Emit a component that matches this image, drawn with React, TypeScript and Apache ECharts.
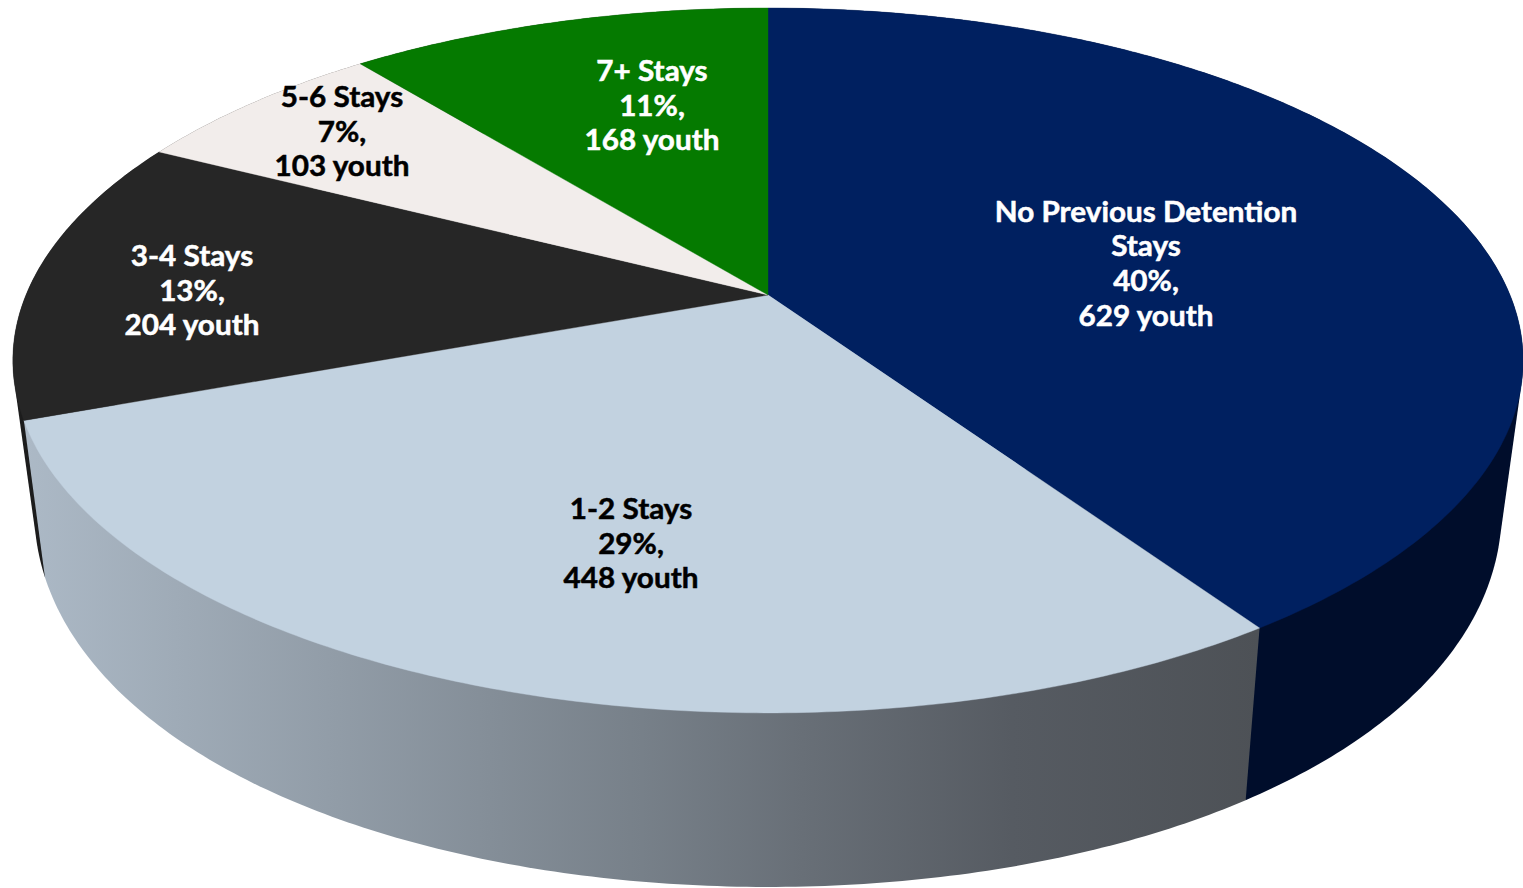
import React, { useEffect, useRef } from "react";
import * as echarts from "echarts";

// Detention history of youth, one slice per group, clockwise from twelve o'clock.
const categories = ["No Previous Detention\nStays", "1-2 Stays", "3-4 Stays", "5-6 Stays", "7+ Stays"];
const youth = [629, 448, 204, 103, 168];
const percents = [40, 29, 13, 7, 11];

const faceColors = ["#002060", "#c2d2e0", "#262626", "#f2edeb", "#057a00"];
const labelColors = ["#ffffff", "#000000", "#ffffff", "#000000", "#ffffff"];
const labelCentres = [
  [1146, 263],
  [631, 543],
  [192, 290],
  [342, 131],
  [652, 105],
];
const wallShade = {
  type: "linear",
  x: 0,
  y: 0,
  x2: 1,
  y2: 0,
  colorStops: [
    { offset: 0, color: "#acb9c6" },
    { offset: 0.5, color: "#778089" },
    { offset: 0.63, color: "#686f77" },
    { offset: 0.8, color: "#565b62" },
    { offset: 1, color: "#4d5156" },
  ],
};
const wallFills: any[] = ["#000d2b", wallShade, "#1c1c1c", "#1c1c1c", "#1c1c1c"];
// Back-to-front order in which the side walls are painted.
const wallOrder = [4, 3, 2, 0, 1];

// Perspective projection of the top and bottom discs.
const CX = 768;
const TOP = { cy: 295, a: 0.1857, A: 742, B: 340.3, ay: 0.1857 };
const BOTTOM = { cy: 434.4, a: 0.1857, A: 721, B: 396, ay: 0.125 };

type Disc = typeof TOP;
type Pt = [number, number];

const total = youth.reduce((s, v) => s + v, 0);
const edges: number[] = [0];
youth.forEach((v, i) => edges.push(edges[i] + (v / total) * Math.PI * 2));

function project(d: Disc, t: number): Pt {
  const u = Math.sin(t);
  const v = Math.cos(t);
  return [CX + (d.A * u) / (1 + d.a * v), d.cy - (d.B * v) / (1 + d.ay * v)];
}

function arc(d: Disc, t0: number, t1: number): Pt[] {
  const steps = Math.max(8, Math.ceil((t1 - t0) * 90));
  const out: Pt[] = [];
  for (let i = 0; i <= steps; i++) out.push(project(d, t0 + ((t1 - t0) * i) / steps));
  return out;
}

// The visible wall of a slice is the outline around its top and bottom rims.
function hull(pts: Pt[]): Pt[] {
  const s = [...pts].sort((p, q) => p[0] - q[0] || p[1] - q[1]);
  const cross = (o: Pt, p: Pt, q: Pt) => (p[0] - o[0]) * (q[1] - o[1]) - (p[1] - o[1]) * (q[0] - o[0]);
  const half = (list: Pt[]) => {
    const h: Pt[] = [];
    for (const p of list) {
      while (h.length >= 2 && cross(h[h.length - 2], h[h.length - 1], p) <= 0) h.pop();
      h.push(p);
    }
    h.pop();
    return h;
  };
  return [...half(s), ...half([...s].reverse())];
}

const FONT = "bold 28px Lato, sans-serif";

export default function App() {
  const ref = useRef<HTMLDivElement>(null);

  useEffect(() => {
    document.body.style.margin = "0";
    const chart = echarts.init(ref.current!, undefined, { renderer: "svg" });
    chart.setOption({
      animation: false,
      backgroundColor: "#ffffff",
      tooltip: { show: false },
      series: [
        {
          type: "custom",
          coordinateSystem: "none",
          silent: true,
          z: 1,
          data: wallOrder.map((i) => ({ name: categories[i], value: youth[i] })),
          renderItem: (params: any) => {
            const i = wallOrder[params.dataIndex];
            const rim = [...arc(TOP, edges[i], edges[i + 1]), ...arc(BOTTOM, edges[i], edges[i + 1])];
            return {
              type: "polygon",
              shape: { points: hull(rim) },
              style: { fill: wallFills[i] },
            };
          },
        },
        {
          type: "custom",
          coordinateSystem: "none",
          silent: true,
          z: 2,
          data: youth.map((v, i) => ({ name: categories[i], value: v })),
          renderItem: (params: any) => {
            const i = params.dataIndex;
            return {
              type: "polygon",
              shape: { points: [[CX, TOP.cy], ...arc(TOP, edges[i], edges[i + 1])] },
              style: { fill: faceColors[i], stroke: faceColors[i], lineWidth: 0.4 },
            };
          },
        },
        {
          type: "custom",
          coordinateSystem: "none",
          silent: true,
          z: 3,
          data: youth.map((v, i) => ({ name: categories[i], value: v })),
          renderItem: (params: any) => {
            const i = params.dataIndex;
            return {
              type: "text",
              x: labelCentres[i][0],
              y: labelCentres[i][1],
              scaleX: 1.06,
              style: {
                text: `${categories[i]}\n${percents[i]}%,\n${youth[i]} youth`,
                x: 0,
                y: 0,
                align: "center",
                verticalAlign: "middle",
                font: FONT,
                lineHeight: 34.6,
                fill: labelColors[i],
                stroke: labelColors[i],
                lineWidth: 0.5,
              },
            };
          },
        },
      ],
    });
    return () => chart.dispose();
  }, []);

  return <div ref={ref} style={{ width: 1523, height: 888 }} />;
}
